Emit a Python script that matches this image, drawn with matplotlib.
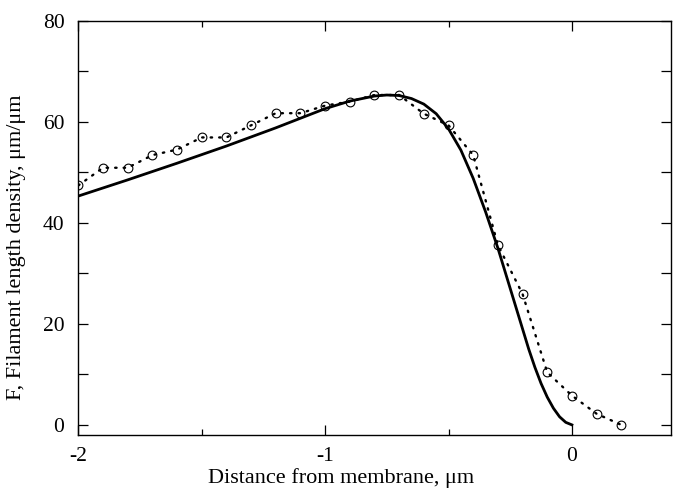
import numpy as np
import matplotlib
matplotlib.use("Agg")
import matplotlib.pyplot as plt
from matplotlib.ticker import MultipleLocator

plt.rcParams['font.family'] = ['Liberation Serif', 'DejaVu Serif']
plt.rcParams['axes.unicode_minus'] = False

# measured points (open circles, dotted line)
x_data = [-2.0, -1.9, -1.8, -1.7, -1.6, -1.5, -1.4, -1.3, -1.2, -1.1, -1.0, -0.9,
          -0.8, -0.7, -0.6, -0.5, -0.4, -0.3, -0.2, -0.1, 0.0, 0.1, 0.2]
f_data = [47.4, 50.9, 50.9, 53.4, 54.5, 56.9, 56.9, 59.3, 61.7, 61.7, 63.2, 64.0,
          65.3, 65.3, 61.6, 59.3, 53.4, 35.6, 25.9, 10.4, 5.8, 2.2, 0.0]

# model curve (solid)
x_model = [-2.0, -1.8, -1.6, -1.4, -1.2, -1.0, -0.9, -0.8, -0.75, -0.7, -0.65, -0.6,
           -0.55, -0.5, -0.45, -0.4, -0.35, -0.3, -0.25, -0.2, -0.175, -0.15, -0.125,
           -0.1, -0.075, -0.05, -0.025, 0.0]
f_model = [45.3, 48.5, 51.8, 55.2, 58.8, 62.6, 64.1, 65.1, 65.3, 65.2, 64.6, 63.5,
           61.6, 58.6, 54.4, 48.8, 42.2, 35.0, 27.0, 19.0, 15.0, 11.4, 8.2,
           5.5, 3.3, 1.6, 0.5, 0.0]

fig = plt.figure(figsize=(6.77, 4.92), dpi=100)
ax = fig.add_axes([0.1157, 0.1159, 0.8749, 0.8419])

ax.plot(x_data, f_data, color="black", lw=1.7, linestyle=(0, (0.6, 3.0)),
        dash_capstyle="round")
ax.plot(x_data, f_data, "o", ms=6.3, mfc="none", mec="black", mew=0.8)
ax.plot(x_model, f_model, color="black", lw=2.0)

ax.set_xlim(-2, 0.4)
ax.set_ylim(-2, 80)
ax.set_xticks([-2, -1, 0])
ax.set_xticklabels(["-2", "-1", "0"])
ax.set_yticks([0, 20, 40, 60, 80])
ax.xaxis.set_minor_locator(MultipleLocator(0.5))
ax.yaxis.set_minor_locator(MultipleLocator(10))
ax.tick_params(which="both", direction="in", top=True, right=True, labelsize=15.5,
               width=0.9)
ax.tick_params(axis="y", which="both", length=7, pad=10)
ax.tick_params(axis="x", which="major", length=7, pad=9)
ax.tick_params(axis="x", which="minor", length=4)
for s in ax.spines.values():
    s.set_linewidth(1.0)

ax.set_xlabel("Distance from membrane, μm", fontsize=16)
ax.set_ylabel("F, Filament length density, μm/μm", fontsize=16)
ax.xaxis.set_label_coords(0.443, -0.08)
ax.yaxis.set_label_coords(-0.088, 0.454)

fig.savefig("out.png", dpi=100)
